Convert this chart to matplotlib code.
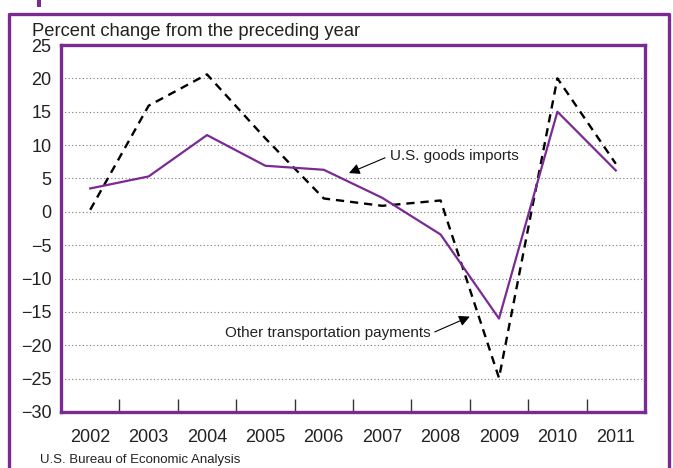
import matplotlib
matplotlib.use("Agg")
import matplotlib.pyplot as plt
from matplotlib.lines import Line2D
from matplotlib.patches import Rectangle

plt.rcParams['font.family'] = ['Liberation Sans Narrow', 'Liberation Sans', 'DejaVu Sans']

# data (percent change from preceding year)
years = ['2002', '2003', '2004', '2005', '2006', '2007', '2008', '2009', '2010', '2011']
goods_imports = [3.5, 5.3, 11.5, 6.9, 6.3, 2.1, -3.4, -16.0, 15.0, 6.2]
transport_payments = [0.3, 15.9, 20.6, 11.0, 2.0, 0.9, 1.7, -24.9, 20.0, 7.2]
y_ticks = [25, 20, 15, 10, 5, 0, -5, -10, -15, -20, -25, -30]

purple = '#7B2A93'
txt = '#222222'

fig = plt.figure(figsize=(6.73, 4.68), dpi=100)
ax = fig.add_axes([61/673, 1 - 412/468, (645 - 61)/673, (412 - 45)/468])

x = list(range(len(years)))
ax.plot(x, transport_payments, color='black', lw=1.7, ls=(0, (3.5, 2.5)), zorder=3)
ax.plot(x, goods_imports, color=purple, lw=1.6, zorder=4)

ax.set_xlim(-0.5, len(years) - 0.5)
ax.set_ylim(-30, 25)

# grid
for v in y_ticks[1:-1]:
    ax.axhline(v, color='#777777', lw=0.8, ls=(0, (1, 2.2)), zorder=1)

ax.set_yticks(y_ticks)
ax.set_yticklabels([str(v).replace('-', '\u2212') for v in y_ticks], fontsize=13)
ax.tick_params(axis='y', length=0, pad=7, colors=txt)

ax.set_xticks([i + 0.5 for i in range(len(years) - 1)])
ax.set_xticklabels([])
ax.tick_params(axis='x', which='major', direction='in', length=9.5, width=1.0, color='#333333')
ax.set_xticks(x, minor=True)
ax.set_xticklabels(years, minor=True, fontsize=13, color=txt)
ax.tick_params(axis='x', which='minor', length=0, pad=12)

for s in ax.spines.values():
    s.set_color(purple)
    s.set_linewidth(2.4)

# annotations
ax.annotate('', xy=(4.43, 5.8), xytext=(5.05, 8.1),
            arrowprops=dict(arrowstyle='-|>', color='black', lw=0.8, mutation_scale=16,
                            shrinkA=0, shrinkB=0))
ax.text(5.13, 8.4, 'U.S. goods imports', fontsize=11, va='center', ha='left', color=txt)
ax.annotate('', xy=(6.5, -15.7), xytext=(5.9, -18.0),
            arrowprops=dict(arrowstyle='-|>', color='black', lw=0.8, mutation_scale=16,
                            shrinkA=0, shrinkB=0))
ax.text(5.83, -18.2, 'Other transportation payments', fontsize=11, va='center', ha='right',
        color=txt)

fig.text(32/673, 1 - 31/468, 'Percent change from the preceding year', fontsize=13.2,
         va='center', ha='left', color=txt)
fig.text(40/673, 1 - 460/468, 'U.S. Bureau of Economic Analysis', fontsize=9.5,
         va='center', ha='left', color=txt)

# outer frame
fx = [9/673, 9/673, 669/673, 669/673]
fy = [-0.05, 1 - 14/468, 1 - 14/468, -0.05]
fig.add_artist(Line2D(fx, fy, transform=fig.transFigure, color=purple, lw=2.4))
# bit of the heading cut off at the top edge
fig.add_artist(Rectangle((37/673, 1 - 7/468), 4/673, 7/468, transform=fig.transFigure,
                         color=purple, lw=0))

fig.savefig('out.png', dpi=100)
